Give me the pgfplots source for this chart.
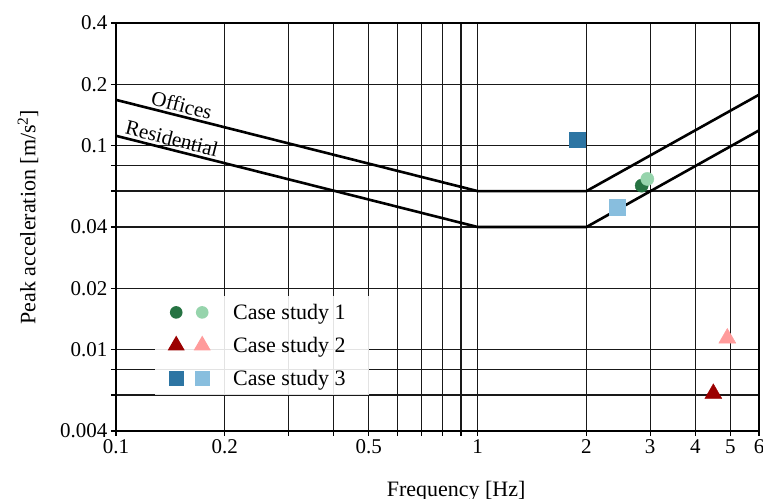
\documentclass[border=0pt]{standalone}
\usepackage{fontspec}
\setmainfont{Liberation Serif}
\usepackage{pgfplots}
\pgfplotsset{compat=1.18}
\definecolor{dkgreen}{RGB}{38,115,66}
\definecolor{ltgreen}{RGB}{150,212,172}
\definecolor{dkred}{RGB}{155,0,0}
\definecolor{ltred}{RGB}{255,155,155}
\definecolor{dkblue}{RGB}{45,117,163}
\definecolor{ltblue}{RGB}{136,190,222}
\begin{document}
\begin{tikzpicture}
\begin{axis}[name=ax,
 xmode=log, ymode=log,
 scale only axis, width=643pt, height=408pt,
 xmin=0.1, xmax=6, ymin=0.004, ymax=0.4,
 xtick={0.1,0.2,0.5,1,2,3,4,5,6},
 xticklabels={0.1,0.2,0.5,1,2,3,4,5,6},
 minor xtick={0.3,0.4,0.6,0.7,0.8,0.9},
 ytick={0.004,0.01,0.02,0.04,0.1,0.2,0.4},
 yticklabels={0.004,0.01,0.02,0.04,0.1,0.2,0.4},
 minor ytick={0.006,0.008,0.06,0.08},
 grid=both,
 major grid style={black!90, line width=1.2pt},
 minor grid style={black!90, line width=1.2pt},
 tick align=outside, xtick pos=bottom, ytick pos=left,
 major tick length=5pt, minor tick length=5pt,
 tick style={black, line width=1.2pt},
 axis line style={line width=2pt},
 tick label style={font=\fontsize{21}{24}\selectfont},
 label style={font=\fontsize{22}{26}\selectfont},
 xlabel={Frequency [Hz]},
 ylabel={Peak acceleration [m/s\textsuperscript{2}]},
 xlabel style={at={(axis description cs:0.529,0)}, anchor=north, yshift=-50pt, inner sep=0pt},
 ylabel style={at={(axis description cs:-0.137,0.5245)}, anchor=center},
 legend style={at={(axis description cs:0.0607,0.088)}, anchor=south west,
   fill=white, fill opacity=0.88, text opacity=1, draw=none,
   inner sep=0pt, row sep=0pt, column sep=0pt,
   nodes={inner sep=0pt, font=\fontsize{22}{26}\selectfont}},
 legend cell align=left,
]
\addplot[line width=2.6pt, black, forget plot] coordinates {(0.1,0.168)(1,0.06)(2,0.06)(6,0.178)};
\addplot[line width=2.6pt, black, forget plot] coordinates {(0.1,0.112)(1,0.04)(2,0.04)(6,0.119)};
\addplot[only marks, mark=*, mark size=6.6pt, dkgreen, mark options={draw=none, fill=dkgreen}, forget plot] coordinates {(2.843,0.0638)};
\addplot[only marks, mark=*, mark size=6.6pt, ltgreen, mark options={draw=none, fill=ltgreen}, forget plot] coordinates {(2.947,0.0688)};
\addplot[only marks, mark=triangle*, mark size=9.8pt, dkred, mark options={draw=none, fill=dkred}, forget plot] coordinates {(4.486,0.0061)};
\addplot[only marks, mark=triangle*, mark size=9.8pt, ltred, mark options={draw=none, fill=ltred}, forget plot] coordinates {(4.904,0.0114)};
\addplot[only marks, mark=square*, mark size=7.7pt, dkblue, mark options={draw=none, fill=dkblue}, forget plot] coordinates {(1.886,0.1072)};
\addplot[only marks, mark=square*, mark size=7.7pt, ltblue, mark options={draw=none, fill=ltblue}, forget plot] coordinates {(2.432,0.0500)};
\node[rotate=-14.2, font=\fontsize{21}{24}\selectfont, inner sep=0pt] at (axis cs:0.152,0.1585) {Offices};
\node[rotate=-14.2, font=\fontsize{21}{24}\selectfont, inner sep=0pt] at (axis cs:0.1428,0.1086) {Residential};
\addlegendimage{legend image code/.code={
  \path[draw=none, fill=none] (0pt,-16.5pt) rectangle (78pt,16.5pt);
  \fill[draw=none, dkgreen, fill opacity=1] (21pt,0pt) circle (6.3pt);
  \fill[draw=none, ltgreen, fill opacity=1] (47pt,0pt) circle (6.3pt);
}}
\addlegendentry{Case study 1\hspace*{23pt}}
\addlegendimage{legend image code/.code={
  \path[draw=none, fill=none] (0pt,-16.5pt) rectangle (78pt,16.5pt);
  \fill[draw=none, dkred, fill opacity=1] ([shift={(90:9.8pt)}]21pt,0pt) -- ([shift={(210:9.8pt)}]21pt,0pt) -- ([shift={(330:9.8pt)}]21pt,0pt) -- cycle;
  \fill[draw=none, ltred, fill opacity=1] ([shift={(90:9.8pt)}]47pt,0pt) -- ([shift={(210:9.8pt)}]47pt,0pt) -- ([shift={(330:9.8pt)}]47pt,0pt) -- cycle;
}}
\addlegendentry{Case study 2\hspace*{23pt}}
\addlegendimage{legend image code/.code={
  \path[draw=none, fill=none] (0pt,-16.5pt) rectangle (78pt,16.5pt);
  \fill[draw=none, dkblue, fill opacity=1] (13.3pt,-7.7pt) rectangle (28.7pt,7.7pt);
  \fill[draw=none, ltblue, fill opacity=1] (39.3pt,-7.7pt) rectangle (54.7pt,7.7pt);
}}
\addlegendentry{Case study 3\hspace*{23pt}}
\end{axis}
\pgfresetboundingbox
\useasboundingbox ([shift={(-116pt,-68pt)}]ax.south west) rectangle ([shift={(4pt,23pt)}]ax.north east);
\end{tikzpicture}
\end{document}
